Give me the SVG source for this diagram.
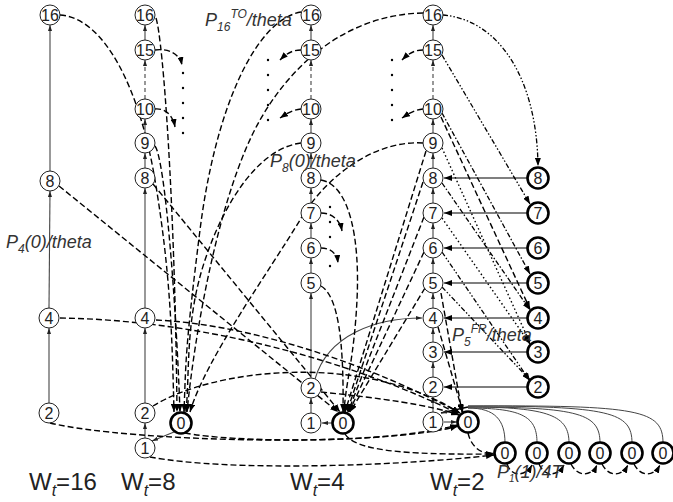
<svg xmlns="http://www.w3.org/2000/svg" width="673" height="502" viewBox="0 0 673 502">
<defs>
<style>
.node circle{fill:#fff;stroke:#222;stroke-width:1}
.node.thick circle{stroke:#000;stroke-width:2.6}
.node text{font-family:"Liberation Sans",Arial,sans-serif;font-size:16px;text-anchor:middle;fill:#222}
.sl{stroke:#444;stroke-width:1;fill:none}
.sa{stroke:#444;stroke-width:1.1;fill:none;marker-end:url(#as)}
.hz{stroke:#555;stroke-width:1.3;fill:none;marker-end:url(#ah)}
.dl{stroke:#000;stroke-width:1.4;fill:none;stroke-dasharray:6 3;marker-end:url(#ah)}
.dv{stroke:#444;stroke-width:1.1;fill:none;stroke-dasharray:4 3;marker-end:url(#as)}
.dd{stroke:#000;stroke-width:1.3;fill:none;stroke-dasharray:5 2 1.5 2;marker-end:url(#ah)}
.ddd{stroke:#000;stroke-width:1.3;fill:none;stroke-dasharray:5 2 1.5 2 1.5 2;marker-end:url(#ah)}
.dt{stroke:#000;stroke-width:1.4;fill:none;stroke-dasharray:1.5 2.5;marker-end:url(#ah)}
.dot{fill:#000}
.lbl{font-family:"Liberation Sans",Arial,sans-serif;font-style:italic;font-size:18px;fill:#333}
.wl{font-family:"Liberation Sans",Arial,sans-serif;font-size:24px;fill:#222}
</style>
<marker id="ah" viewBox="0 0 8 6" refX="8" refY="3" markerWidth="8" markerHeight="6" markerUnits="userSpaceOnUse" orient="auto"><path d="M0,0 L8,3 L0,6 z" fill="#000"/></marker>
<marker id="as" viewBox="0 0 6 4" refX="6" refY="2" markerWidth="6" markerHeight="4" markerUnits="userSpaceOnUse" orient="auto"><path d="M0,0 L6,2 L0,4 z" fill="#222"/></marker>
</defs>
<rect width="673" height="502" fill="#fff"/>

<g id="connectors">
<path class="sa" d="M49,403 L49,328"/><path class="sa" d="M49,308 L50,191"/><path class="sa" d="M50,171 L50,25"/>
<path class="sa" d="M145,438 L145,423"/><path class="sa" d="M145,403 L145,328"/><path class="sa" d="M145,308 L145,188"/><path class="sa" d="M145,168 L145,153"/><path class="sa" d="M145,133 L145,119"/><path class="dv" d="M145,99 L145,60"/><path class="sa" d="M145,40 L145,25"/>
<path class="sa" d="M311,413 L311,398"/><path class="sa" d="M311,378 L311,293"/><path class="sa" d="M311,273 L311,258"/><path class="sa" d="M311,238 L311,223"/><path class="sa" d="M311,203 L311,188"/><path class="sa" d="M311,168 L311,153"/><path class="sa" d="M311,133 L311,119"/><path class="dv" d="M311,99 L311,60"/><path class="sa" d="M311,40 L311,25"/>
<path class="sa" d="M433,412 L433,397"/><path class="sa" d="M433,377 L433,362"/><path class="sa" d="M433,342 L433,328"/><path class="sa" d="M433,308 L433,293"/><path class="sa" d="M433,273 L433,258"/><path class="sa" d="M433,238 L433,223"/><path class="sa" d="M433,203 L433,188"/><path class="sa" d="M433,168 L433,153"/><path class="sa" d="M433,133 L433,119"/><path class="dv" d="M433,99 L433,60"/><path class="sa" d="M433,40 L433,25"/>
<path class="hz" d="M527,178 L444,178"/><path class="hz" d="M527,213 L444,213"/><path class="hz" d="M527,248 L444,248"/><path class="hz" d="M527,283 L444,283"/><path class="hz" d="M527,318 L444,318"/><path class="hz" d="M527,352 L444,352"/><path class="hz" d="M527,387 L444,387"/>
<path class="sa" d="M332,423 L322,423"/>
<path class="sa" d="M444,422 L457,422"/>
<path class="sa" d="M174,432 L152,441"/>
<path class="sa" d="M315,379 C328,335 375,318 422,318"/>
<path class="dl" d="M60,15 C105,18 140,90 155,180 S172,330 174,412"/>
<path class="dl" d="M156,18 C163,40 175,200 177,412"/>
<path class="dl" d="M155,146 C165,160 176,300 180,412"/>
<path class="dl" d="M301,12 C255,20 215,110 200,230 S186,360 184,412"/>
<path class="dl" d="M423,13 C360,14 300,50 260,120 S195,330 187,412"/>
<path class="dl" d="M301,143 C260,148 225,200 205,260 S190,370 186,412"/>
<path class="dl" d="M423,143 C380,140 330,170 300,220 S205,360 190,412"/>
<path class="dl" d="M321,180 C350,185 360,240 357,300 S346,380 344,412"/>
<path class="dl" d="M321,286 C338,296 344,340 343,412"/>
<path class="dl" d="M153,184 L340,412"/>
<path class="dl" d="M59,186 L338,412"/>
<path class="dl" d="M426,151 L345,412"/>
<path class="dl" d="M423,182 L347,412"/>
<path class="dl" d="M424,217 L348,412"/>
<path class="dl" d="M424,252 L349,412"/>
<path class="dl" d="M425,288 L350,412"/>
<path class="dl" d="M60,318 C200,320 350,360 459,414"/>
<path class="dl" d="M156,320 C260,325 380,370 460,413"/>
<path class="dl" d="M153,406 C210,370 360,350 460,413"/>
<path class="dl" d="M321,392 C380,398 430,405 459,415"/>
<path class="dl" d="M50,423 C130,442 380,448 458,426"/>
<path class="dl" d="M185,433 C230,442 380,445 458,425"/>
<path class="dl" d="M438,327 L463,413"/>
<path class="dl" d="M441,293 L462,412"/>
<path class="dl" d="M468,433 C472,450 485,455 494,453"/>
<path class="dl" d="M150,457 C230,472 400,466 494,455"/>
<path class="dl" d="M345,434 C355,450 400,455 494,454"/>
<path class="dl" d="M507,464 C512,478 526,476 532,465"/>
<path class="dl" d="M539,464 C545,478 558,476 564,465"/>
<path class="dl" d="M571,464 C578,478 592,476 597,465"/>
<path class="dl" d="M602,464 C609,478 622,476 628,465"/>
<path class="dl" d="M634,464 C641,478 654,476 660,465"/>
<path class="sl" d="M505,443 C505,420 495,408 468,408"/>
<path class="sl" d="M537,443 C537,418 525,408 468,408"/>
<path class="sl" d="M569,443 C569,416 550,407 468,407"/>
<path class="sl" d="M600,443 C600,414 580,407 468,407"/>
<path class="sl" d="M632,443 C632,412 610,406 468,406"/>
<path class="sl" d="M663,443 C663,410 640,405 468,406"/>
<path class="sa" d="M468,407 L441,413" style="stroke-width:1.6;stroke:#000"/>
<path class="dl" d="M155,50 C170,48 180,55 182,65"/>
<path class="dl" d="M155,109 C166,108 173,116 175,127"/>
<path class="dl" d="M301,50 C292,50 286,54 280,60"/>
<path class="dl" d="M301,109 C292,110 286,114 280,118"/>
<path class="dl" d="M423,50 C414,50 408,54 402,60"/>
<path class="dl" d="M423,109 C414,110 408,114 402,118"/>
<path class="dl" d="M321,213 C332,213 340,220 342,231"/>
<path class="dl" d="M321,248 C330,248 337,253 338,263"/>
<path class="ddd" d="M443,15 C500,20 537,80 538,166"/>
<path class="ddd" d="M442,55 L530,204"/>
<path class="dd" d="M442,113 L530,274"/>
<path class="dl" d="M441,117 L530,309"/>
<path class="dt" d="M442,148 L530,343"/>
<path class="dd" d="M442,183 L530,310"/>
<path class="dt" d="M442,218 L530,344"/>
<path class="ddd" d="M442,252 L530,381"/>
<path class="ddd" d="M442,287 L530,380"/>
</g>

<g id="dots">
<circle class="dot" cx="183" cy="73" r="1.2"/><circle class="dot" cx="183" cy="88" r="1.2"/><circle class="dot" cx="183" cy="103" r="1.2"/><circle class="dot" cx="183" cy="118" r="1.2"/><circle class="dot" cx="183" cy="133" r="1.2"/>
<circle class="dot" cx="268" cy="60" r="1.2"/><circle class="dot" cx="268" cy="75" r="1.2"/><circle class="dot" cx="268" cy="90" r="1.2"/><circle class="dot" cx="268" cy="105" r="1.2"/><circle class="dot" cx="268" cy="120" r="1.2"/>
<circle class="dot" cx="392" cy="60" r="1.2"/><circle class="dot" cx="392" cy="75" r="1.2"/><circle class="dot" cx="392" cy="90" r="1.2"/><circle class="dot" cx="392" cy="105" r="1.2"/><circle class="dot" cx="392" cy="120" r="1.2"/>
<circle class="dot" cx="330" cy="207" r="1.2"/><circle class="dot" cx="330" cy="222" r="1.2"/><circle class="dot" cx="330" cy="237" r="1.2"/><circle class="dot" cx="330" cy="266" r="1.2"/>
</g>

<g id="n-A16" class="node"><circle cx="50" cy="15" r="10"/><text x="50" y="21">16</text></g>
<g id="n-A8" class="node"><circle cx="50" cy="181" r="10"/><text x="50" y="187">8</text></g>
<g id="n-A4" class="node"><circle cx="49" cy="318" r="10"/><text x="49" y="324">4</text></g>
<g id="n-A2" class="node"><circle cx="49" cy="413" r="10"/><text x="49" y="419">2</text></g>

<g id="n-B16" class="node"><circle cx="145" cy="15" r="10"/><text x="145" y="21">16</text></g>
<g id="n-B15" class="node"><circle cx="145" cy="50" r="10"/><text x="145" y="56">15</text></g>
<g id="n-B10" class="node"><circle cx="145" cy="109" r="10"/><text x="145" y="115">10</text></g>
<g id="n-B9" class="node"><circle cx="145" cy="143" r="10"/><text x="145" y="149">9</text></g>
<g id="n-B8" class="node"><circle cx="145" cy="178" r="10"/><text x="145" y="184">8</text></g>
<g id="n-B4" class="node"><circle cx="145" cy="318" r="10"/><text x="145" y="324">4</text></g>
<g id="n-B2" class="node"><circle cx="145" cy="413" r="10"/><text x="145" y="419">2</text></g>
<g id="n-B1" class="node"><circle cx="145" cy="448" r="10"/><text x="145" y="454">1</text></g>
<g id="n-B0" class="node thick"><circle cx="181" cy="423" r="10.5"/><text x="181" y="429">0</text></g>

<g id="n-C16" class="node"><circle cx="311" cy="15" r="10"/><text x="311" y="21">16</text></g>
<g id="n-C15" class="node"><circle cx="311" cy="50" r="10"/><text x="311" y="56">15</text></g>
<g id="n-C10" class="node"><circle cx="311" cy="109" r="10"/><text x="311" y="115">10</text></g>
<g id="n-C9" class="node"><circle cx="311" cy="143" r="10"/><text x="311" y="149">9</text></g>
<g id="n-C8" class="node"><circle cx="311" cy="178" r="10"/><text x="311" y="184">8</text></g>
<g id="n-C7" class="node"><circle cx="311" cy="213" r="10"/><text x="311" y="219">7</text></g>
<g id="n-C6" class="node"><circle cx="311" cy="248" r="10"/><text x="311" y="254">6</text></g>
<g id="n-C5" class="node"><circle cx="311" cy="283" r="10"/><text x="311" y="289">5</text></g>
<g id="n-C2" class="node"><circle cx="311" cy="388" r="10"/><text x="311" y="394">2</text></g>
<g id="n-C1" class="node"><circle cx="311" cy="423" r="10"/><text x="311" y="429">1</text></g>
<g id="n-C0" class="node thick"><circle cx="343" cy="423" r="10.5"/><text x="343" y="429">0</text></g>

<g id="n-D16" class="node"><circle cx="433" cy="15" r="10"/><text x="433" y="21">16</text></g>
<g id="n-D15" class="node"><circle cx="433" cy="50" r="10"/><text x="433" y="56">15</text></g>
<g id="n-D10" class="node"><circle cx="433" cy="109" r="10"/><text x="433" y="115">10</text></g>
<g id="n-D9" class="node"><circle cx="433" cy="143" r="10"/><text x="433" y="149">9</text></g>
<g id="n-D8" class="node"><circle cx="433" cy="178" r="10"/><text x="433" y="184">8</text></g>
<g id="n-D7" class="node"><circle cx="433" cy="213" r="10"/><text x="433" y="219">7</text></g>
<g id="n-D6" class="node"><circle cx="433" cy="248" r="10"/><text x="433" y="254">6</text></g>
<g id="n-D5" class="node"><circle cx="433" cy="283" r="10"/><text x="433" y="289">5</text></g>
<g id="n-D4" class="node"><circle cx="433" cy="318" r="10"/><text x="433" y="324">4</text></g>
<g id="n-D3" class="node"><circle cx="433" cy="352" r="10"/><text x="433" y="358">3</text></g>
<g id="n-D2" class="node"><circle cx="433" cy="387" r="10"/><text x="433" y="393">2</text></g>
<g id="n-D1" class="node"><circle cx="433" cy="422" r="10"/><text x="433" y="428">1</text></g>
<g id="n-D0" class="node thick"><circle cx="468" cy="422" r="10.5"/><text x="468" y="428">0</text></g>

<g id="n-R8" class="node thick"><circle cx="538" cy="178" r="10.5"/><text x="538" y="184">8</text></g>
<g id="n-R7" class="node thick"><circle cx="538" cy="213" r="10.5"/><text x="538" y="219">7</text></g>
<g id="n-R6" class="node thick"><circle cx="538" cy="248" r="10.5"/><text x="538" y="254">6</text></g>
<g id="n-R5" class="node thick"><circle cx="538" cy="283" r="10.5"/><text x="538" y="289">5</text></g>
<g id="n-R4" class="node thick"><circle cx="538" cy="318" r="10.5"/><text x="538" y="324">4</text></g>
<g id="n-R3" class="node thick"><circle cx="538" cy="352" r="10.5"/><text x="538" y="358">3</text></g>
<g id="n-R2" class="node thick"><circle cx="538" cy="387" r="10.5"/><text x="538" y="393">2</text></g>

<g id="n-Z1" class="node thick"><circle cx="505" cy="453" r="10.5"/><text x="505" y="459">0</text></g>
<g id="n-Z2" class="node thick"><circle cx="537" cy="453" r="10.5"/><text x="537" y="459">0</text></g>
<g id="n-Z3" class="node thick"><circle cx="569" cy="453" r="10.5"/><text x="569" y="459">0</text></g>
<g id="n-Z4" class="node thick"><circle cx="600" cy="453" r="10.5"/><text x="600" y="459">0</text></g>
<g id="n-Z5" class="node thick"><circle cx="632" cy="453" r="10.5"/><text x="632" y="459">0</text></g>
<g id="n-Z6" class="node thick"><circle cx="663" cy="453" r="10.5"/><text x="663" y="459">0</text></g>

<g id="labels">
<text class="lbl" x="205" y="26">P<tspan font-size="12" dy="5">16</tspan><tspan font-size="12" dy="-13">TO</tspan><tspan dy="8">/theta</tspan></text>
<text class="lbl" x="270" y="167">P<tspan font-size="12" dy="5">8</tspan><tspan dy="-5">(0)/theta</tspan></text>
<text class="lbl" x="6" y="248" font-size="19">P<tspan font-size="12" dy="5">4</tspan><tspan dy="-5">(0)/theta</tspan></text>
<text class="lbl" x="452" y="341">P<tspan font-size="12" dy="5">5</tspan><tspan font-size="12" dy="-13">FR</tspan><tspan dy="8">/theta</tspan></text>
<text class="lbl" x="497" y="478" font-size="14">P<tspan font-size="10" dy="4">1</tspan><tspan dy="-4">(1)/4T</tspan></text>
<text class="wl" x="29" y="490">W<tspan font-size="16" dy="6" font-style="italic">t</tspan><tspan dy="-6">=16</tspan></text>
<text class="wl" x="121" y="490">W<tspan font-size="16" dy="6" font-style="italic">t</tspan><tspan dy="-6">=8</tspan></text>
<text class="wl" x="290" y="490">W<tspan font-size="16" dy="6" font-style="italic">t</tspan><tspan dy="-6">=4</tspan></text>
<text class="wl" x="430" y="490">W<tspan font-size="16" dy="6" font-style="italic">t</tspan><tspan dy="-6">=2</tspan></text>
</g>
</svg>
